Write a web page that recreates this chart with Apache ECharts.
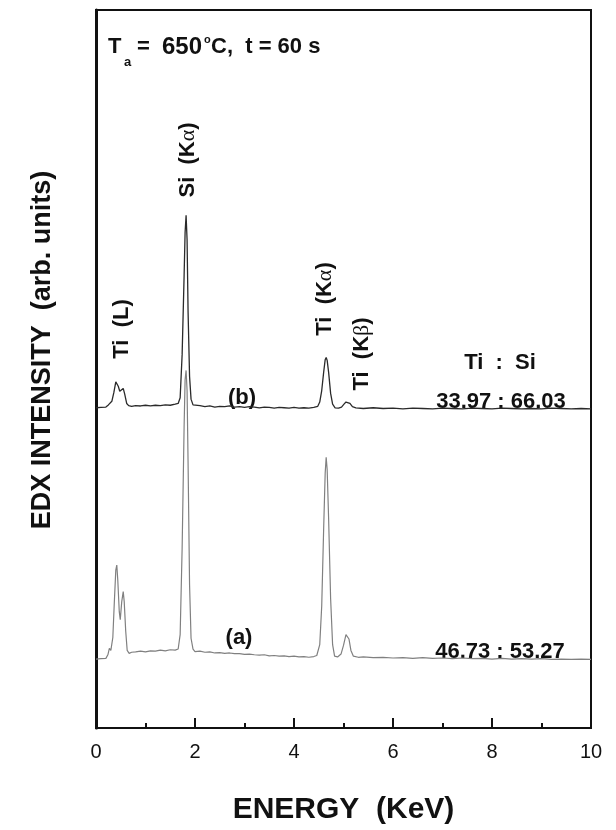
<!DOCTYPE html>
<html>
<head>
<meta charset="utf-8">
<script src="https://cdn.jsdelivr.net/npm/echarts@6/dist/echarts.min.js"></script>
<style>
html, body { margin: 0; padding: 0; background: #fff; }
#chart { width: 616px; height: 830px; }
</style>
</head>
<body>
<div id="chart"></div>
<script>
// energy range (keV) and ticks
var xMin = 0, xMax = 10, xStep = 2;

// spectrum (b): [energy keV, intensity arb.]
var spectrumB = [
  [0.00, 44.6], [0.10, 44.65], [0.20, 44.7], [0.25, 45.0], [0.28, 45.2], [0.32, 45.5],
  [0.36, 46.7], [0.40, 48.2], [0.42, 48.4], [0.45, 47.6], [0.48, 46.9], [0.51, 47.1],
  [0.55, 47.3], [0.58, 46.5], [0.62, 45.2], [0.66, 44.9], [0.72, 44.8], [0.80, 44.9],
  [0.90, 44.85], [1.00, 44.95], [1.10, 44.85], [1.20, 44.95], [1.30, 44.9], [1.40, 45.0],
  [1.50, 44.95], [1.60, 45.1], [1.66, 45.2], [1.70, 46.0], [1.74, 52.0], [1.78, 63.0],
  [1.80, 69.0], [1.82, 71.4], [1.84, 68.0], [1.86, 58.0], [1.89, 49.0], [1.92, 45.8],
  [1.96, 45.0], [2.0, 44.85], [2.1, 44.9], [2.2, 44.75], [2.3, 44.85], [2.4, 44.7],
  [2.5, 44.8], [2.6, 44.75], [2.7, 44.85], [2.8, 44.7], [2.9, 44.75], [3.0, 44.65],
  [3.1, 44.75], [3.2, 44.7], [3.3, 44.6], [3.4, 44.7], [3.5, 44.65], [3.6, 44.55],
  [3.7, 44.65], [3.8, 44.6], [3.9, 44.55], [4.0, 44.65], [4.1, 44.55], [4.2, 44.6],
  [4.3, 44.55], [4.4, 44.65], [4.48, 44.8], [4.52, 45.4], [4.56, 47.0], [4.60, 49.6],
  [4.63, 51.3], [4.65, 51.6], [4.67, 51.2], [4.70, 49.5], [4.74, 46.6], [4.78, 45.1],
  [4.83, 44.6], [4.90, 44.55], [4.96, 44.7], [5.01, 45.1], [5.05, 45.4], [5.09, 45.55],
  [5.13, 45.2], [5.18, 44.75], [5.25, 44.6], [5.4, 44.5], [5.6, 44.6], [5.8, 44.5],
  [6.0, 44.55], [6.2, 44.45], [6.4, 44.55], [6.6, 44.5], [6.8, 44.45], [7.0, 44.55],
  [7.2, 44.5], [7.4, 44.45], [7.6, 44.55], [7.8, 44.5], [8.0, 44.45], [8.2, 44.55],
  [8.4, 44.5], [8.6, 44.45], [8.8, 44.5], [9.0, 44.45], [9.2, 44.55], [9.4, 44.5],
  [9.6, 44.45], [9.8, 44.5], [10.0, 44.45]
];

// spectrum (a)
var spectrumA = [
  [0.00, 9.6], [0.10, 9.65], [0.20, 9.7], [0.24, 10.2], [0.27, 11.1], [0.30, 10.8],
  [0.34, 12.6], [0.37, 17.5], [0.40, 22.0], [0.42, 22.7], [0.44, 20.6], [0.47, 16.2],
  [0.49, 15.1], [0.52, 17.6], [0.55, 19.0], [0.57, 17.6], [0.60, 13.5], [0.63, 10.8],
  [0.67, 10.4], [0.72, 10.55], [0.80, 10.6], [0.90, 10.7], [1.00, 10.6], [1.10, 10.75],
  [1.20, 10.7], [1.30, 10.85], [1.40, 10.75], [1.50, 10.9], [1.60, 10.85], [1.66, 11.0],
  [1.70, 13.0], [1.74, 25.0], [1.78, 42.0], [1.80, 48.5], [1.82, 49.8], [1.84, 47.0],
  [1.86, 37.0], [1.89, 20.0], [1.92, 12.5], [1.96, 11.0], [2.0, 10.65], [2.1, 10.7],
  [2.2, 10.55], [2.3, 10.6], [2.4, 10.45], [2.5, 10.5], [2.6, 10.4], [2.7, 10.45],
  [2.8, 10.35], [2.9, 10.35], [3.0, 10.25], [3.1, 10.3], [3.2, 10.2], [3.3, 10.15],
  [3.4, 10.2], [3.5, 10.05], [3.6, 10.1], [3.7, 10.0], [3.8, 10.05], [3.9, 9.95],
  [4.0, 10.0], [4.1, 9.9], [4.2, 9.95], [4.3, 9.85], [4.4, 9.95], [4.46, 10.1],
  [4.52, 11.6], [4.56, 17.0], [4.60, 28.0], [4.63, 35.5], [4.65, 37.7], [4.67, 36.0],
  [4.70, 29.0], [4.74, 18.0], [4.78, 11.6], [4.82, 10.0], [4.88, 9.9], [4.95, 10.3],
  [5.00, 11.5], [5.05, 13.0], [5.08, 13.2], [5.11, 12.4], [5.15, 10.8], [5.20, 10.0],
  [5.3, 9.85], [5.4, 9.9], [5.6, 9.8], [5.8, 9.85], [6.0, 9.75], [6.2, 9.8],
  [6.4, 9.7], [6.6, 9.8], [6.8, 9.7], [7.0, 9.75], [7.2, 9.65], [7.4, 9.75],
  [7.6, 9.65], [7.8, 9.7], [8.0, 9.6], [8.2, 9.7], [8.4, 9.6], [8.6, 9.65],
  [8.8, 9.6], [9.0, 9.65], [9.2, 9.55], [9.4, 9.6], [9.6, 9.55], [9.8, 9.6], [10.0, 9.55]
];

var ratioTitle = 'Ti  :  Si';
var ratioB = '33.97 : 66.03';
var ratioA = '46.73 : 53.27';

var fam = 'Arial, "Liberation Sans", sans-serif';

function txt(x, y, text, size, rotate, rich) {
  return {
    type: 'text', x: x, y: y, rotation: rotate ? Math.PI / 2 : 0,
    style: {
      text: text, fontSize: size, fontFamily: fam, fontWeight: 'bold',
      fill: '#111', align: 'center', verticalAlign: 'middle', rich: rich
    }
  };
}

function piece(x, y, text, size, align) {
  return {
    type: 'text', x: x, y: y,
    style: {
      text: text, fontSize: size, fontFamily: fam, fontWeight: 'bold',
      fill: '#111', align: align || 'left', verticalAlign: 'middle'
    }
  };
}

var greek = {
  g: { fontSize: 22, fontFamily: 'serif', fontWeight: 'normal', fill: '#111' },
  b: { fontSize: 22, fontFamily: fam, fontWeight: 'bold', fill: '#111' }
};

var myChart = echarts.init(document.getElementById('chart'));
var option = {
  animation: false,
  backgroundColor: '#fff',
  grid: {
    left: 96, right: 25, top: 10, bottom: 93,
    show: true, borderColor: '#111', borderWidth: 2
  },
  xAxis: {
    type: 'value', min: xMin, max: xMax, interval: xStep,
    name: 'ENERGY  (KeV)', nameLocation: 'middle', nameGap: 67,
    nameTextStyle: { fontSize: 30, fontWeight: 'bold', color: '#111', fontFamily: fam },
    axisLine: { show: true, lineStyle: { color: '#111', width: 2 } },
    axisTick: { show: true, inside: true, length: 10, lineStyle: { color: '#111', width: 2 } },
    minorTick: { show: true, splitNumber: 2, length: 5, lineStyle: { color: '#111', width: 2 } },
    axisLabel: { fontSize: 20, color: '#111', margin: 14, fontFamily: fam },
    splitLine: { show: false }
  },
  yAxis: {
    type: 'value', min: 0, max: 100,
    axisLine: { show: true, lineStyle: { color: '#111', width: 3 } },
    axisTick: { show: false },
    axisLabel: { show: false },
    splitLine: { show: false }
  },
  graphic: [
    {
      type: 'text', x: 43, y: 350, rotation: Math.PI / 2,
      style: {
        text: 'EDX INTENSITY  (arb. units)', fontSize: 27, fontWeight: 'bold',
        fontFamily: fam, fill: '#111', align: 'center', verticalAlign: 'middle'
      }
    },
    piece(108, 47, 'T', 22),
    piece(124, 62, 'a', 13),
    piece(137, 47, '=', 22),
    piece(182, 47, '650', 24, 'center'),
    piece(204, 40, 'o', 11),
    piece(211, 47, 'C,  t = 60 s', 22),
    txt(188, 160, '{b|Si  (K}{g|α}{b|)}', 22, true, greek),
    txt(122, 329, 'Ti  (L)', 22, true),
    txt(325, 299, '{b|Ti  (K}{g|α}{b|)}', 22, true, greek),
    txt(362, 354, '{b|Ti  (K}{g|β}{b|)}', 22, true, greek),
    txt(242, 398, '(b)', 22, false),
    txt(239, 638, '(a)', 22, false),
    txt(500, 363, ratioTitle, 22, false),
    txt(501, 402, ratioB, 22, false),
    txt(500, 652, ratioA, 22, false)
  ],
  series: [
    {
      name: '(a)', type: 'line', data: spectrumA, showSymbol: false, z: 2,
      lineStyle: { color: '#808080', width: 1.2 }
    },
    {
      name: '(b)', type: 'line', data: spectrumB, showSymbol: false, z: 3,
      lineStyle: { color: '#2a2a2a', width: 1.3 }
    }
  ]
};
myChart.setOption(option);
window.addEventListener('resize', function () {
  myChart.resize();
});
</script>
</body>
</html>
